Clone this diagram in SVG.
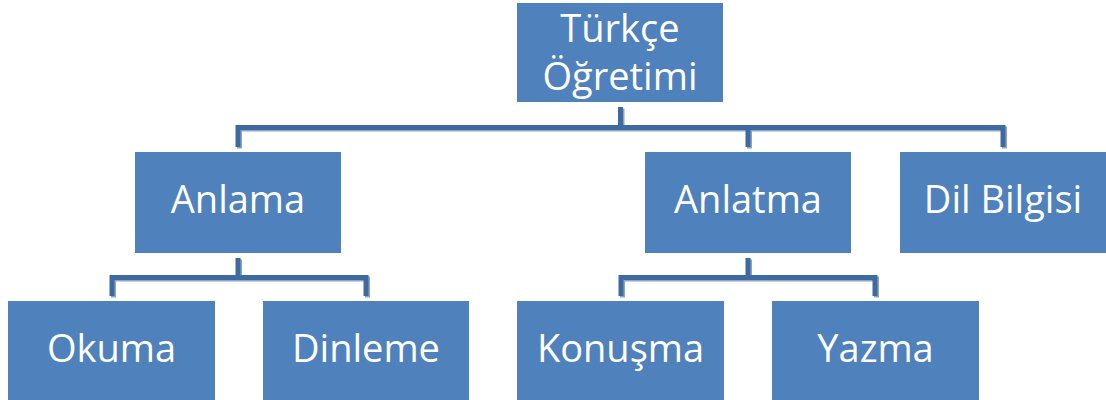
<svg xmlns="http://www.w3.org/2000/svg" width="1106" height="400" viewBox="0 0 1106 400">
<style>
.box{fill:#4f81bd}
.lbl{fill:#ffffff;font-family:"Open Sans","Noto Sans","DejaVu Sans",sans-serif;font-size:38px;text-anchor:middle}
.sh{fill:none;stroke:#8aa6ca;stroke-width:5;stroke-linejoin:miter}
.ln{fill:none;stroke:#3f6a9f;stroke-width:5;stroke-linejoin:miter}
</style>
<rect width="1106" height="400" fill="#ffffff"/>
<g id="connectors">
<g transform="translate(1.5,1.5)">
<path class="sh" d="M238,147 V127.5 H1003 V147 M620.5,107 V127.5 M748,127.5 V147"/>
<path class="sh" d="M238,258 V277.5 M112,296 V277.5 H366 V296"/>
<path class="sh" d="M748,258 V277.5 M621,296 V277.5 H875 V296"/>
</g>
<path class="ln" d="M238,147 V127.5 H1003 V147 M620.5,107 V127.5 M748,127.5 V147"/>
<path class="ln" d="M238,258 V277.5 M112,296 V277.5 H366 V296"/>
<path class="ln" d="M748,258 V277.5 M621,296 V277.5 H875 V296"/>
</g>
<g id="root">
<rect class="box" x="517" y="3" width="206" height="99"/>
<text class="lbl" x="620" y="41.5">Türkçe</text>
<text class="lbl" x="620" y="90">Öğretimi</text>
</g>
<g id="anlama">
<rect class="box" x="135" y="152" width="206" height="101"/>
<text class="lbl" x="238" y="213">Anlama</text>
</g>
<g id="anlatma">
<rect class="box" x="645" y="152" width="206" height="101"/>
<text class="lbl" x="748" y="213">Anlatma</text>
</g>
<g id="dilbilgisi">
<rect class="box" x="900" y="152" width="206" height="101"/>
<text class="lbl" x="1003" y="213">Dil Bilgisi</text>
</g>
<g id="okuma">
<rect class="box" x="8" y="301" width="207" height="99"/>
<text class="lbl" x="111.5" y="362">Okuma</text>
</g>
<g id="dinleme">
<rect class="box" x="263" y="301" width="206" height="99"/>
<text class="lbl" x="366" y="362">Dinleme</text>
</g>
<g id="konusma">
<rect class="box" x="517" y="301" width="207" height="99"/>
<text class="lbl" x="620.5" y="362">Konuşma</text>
</g>
<g id="yazma">
<rect class="box" x="772" y="301" width="207" height="99"/>
<text class="lbl" x="875.5" y="362">Yazma</text>
</g>
</svg>
